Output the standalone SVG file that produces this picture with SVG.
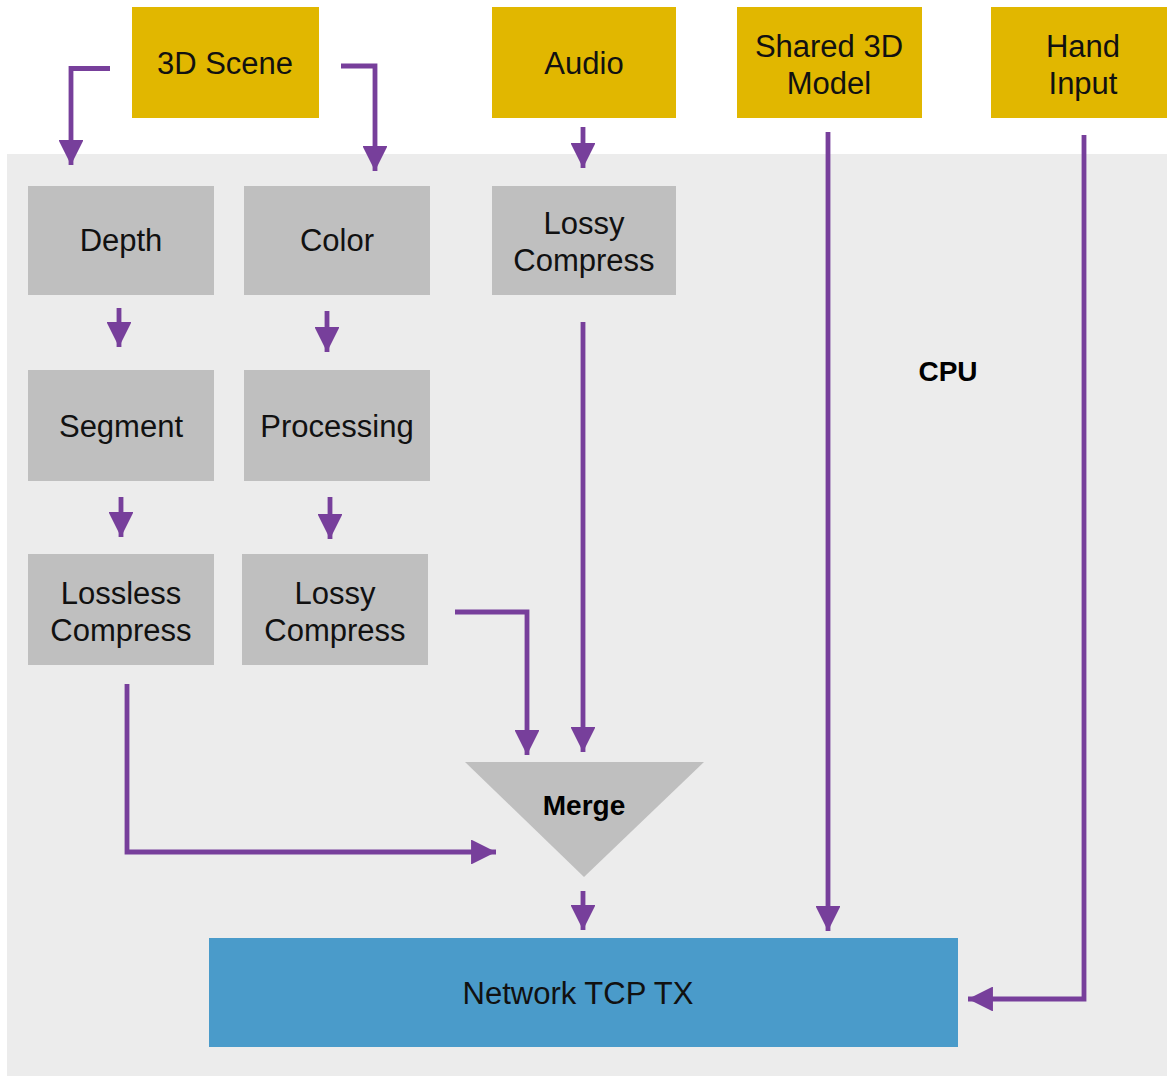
<svg xmlns="http://www.w3.org/2000/svg" width="1167" height="1076" viewBox="0 0 1167 1076">
  <defs>
    <marker id="head" viewBox="0 0 10 10" refX="10" refY="5" markerWidth="5.2" markerHeight="5.2" markerUnits="strokeWidth" orient="auto">
      <path d="M0,0 L10,5 L0,10 Z" fill="#773F9B"/>
    </marker>
    <style>
      .src { fill: #E1B700; }
      .step { fill: #BFBFBF; }
      .net { fill: #4A9BCA; }
      .lbl { font-family: "Liberation Sans", Arial, sans-serif; font-size: 31px; fill: #111; text-anchor: middle; }
      .bold { font-weight: bold; font-size: 28px; fill: #000; }
      .wire { fill: none; stroke: #773F9B; stroke-width: 4.8; marker-end: url(#head); }
    </style>
  </defs>

  <rect width="1167" height="1076" fill="#FFFFFF"/>
  <!-- CPU region -->
  <rect id="cpu" x="7" y="154" width="1160" height="922" fill="#ECECEC"/>
  <text class="lbl bold" x="948" y="381">CPU</text>

  <!-- inputs -->
  <g id="scene"><rect class="src" x="132" y="7" width="187" height="111"/><text class="lbl" x="225" y="74">3D Scene</text></g>
  <g id="audio"><rect class="src" x="492" y="7" width="184" height="111"/><text class="lbl" x="584" y="74">Audio</text></g>
  <g id="model"><rect class="src" x="737" y="7" width="185" height="111"/><text class="lbl" x="829" y="57">Shared 3D</text><text class="lbl" x="829" y="94">Model</text></g>
  <g id="hand"><rect class="src" x="991" y="7" width="176" height="111"/><text class="lbl" x="1083" y="57">Hand</text><text class="lbl" x="1083" y="94">Input</text></g>

  <!-- processing steps -->
  <g id="depth"><rect class="step" x="28" y="186" width="186" height="109"/><text class="lbl" x="121" y="251">Depth</text></g>
  <g id="color"><rect class="step" x="244" y="186" width="186" height="109"/><text class="lbl" x="337" y="251">Color</text></g>
  <g id="audio-compress"><rect class="step" x="492" y="186" width="184" height="109"/><text class="lbl" x="584" y="234">Lossy</text><text class="lbl" x="584" y="271">Compress</text></g>
  <g id="segment"><rect class="step" x="28" y="370" width="186" height="111"/><text class="lbl" x="121" y="437">Segment</text></g>
  <g id="processing"><rect class="step" x="244" y="370" width="186" height="111"/><text class="lbl" x="337" y="437">Processing</text></g>
  <g id="lossless"><rect class="step" x="28" y="554" width="186" height="111"/><text class="lbl" x="121" y="604">Lossless</text><text class="lbl" x="121" y="641">Compress</text></g>
  <g id="color-compress"><rect class="step" x="242" y="554" width="186" height="111"/><text class="lbl" x="335" y="604">Lossy</text><text class="lbl" x="335" y="641">Compress</text></g>

  <g id="merge"><polygon points="465,762 704,762 584,877" fill="#BFBFBF"/><text class="lbl bold" x="584" y="815">Merge</text></g>

  <g id="network"><rect class="net" x="209" y="938" width="749" height="109"/><text class="lbl" x="578" y="1004">Network TCP TX</text></g>

  <!-- connectors -->
  <g id="connectors">
    <path class="wire" d="M110,68.5 H71 V165"/>
    <path class="wire" d="M341,66 H375 V171"/>
    <path class="wire" d="M583,127 V168"/>
    <path class="wire" d="M119,308 V347"/>
    <path class="wire" d="M327,311 V352"/>
    <path class="wire" d="M121,497 V537"/>
    <path class="wire" d="M330,497 V539"/>
    <path class="wire" d="M583,322 V752"/>
    <path class="wire" d="M455,612 H527 V755"/>
    <path class="wire" d="M127,684 V852 H496"/>
    <path class="wire" d="M583,891 V930"/>
    <path class="wire" d="M828,132 V931"/>
    <path class="wire" d="M1084,135 V999 H968"/>
  </g>
</svg>
